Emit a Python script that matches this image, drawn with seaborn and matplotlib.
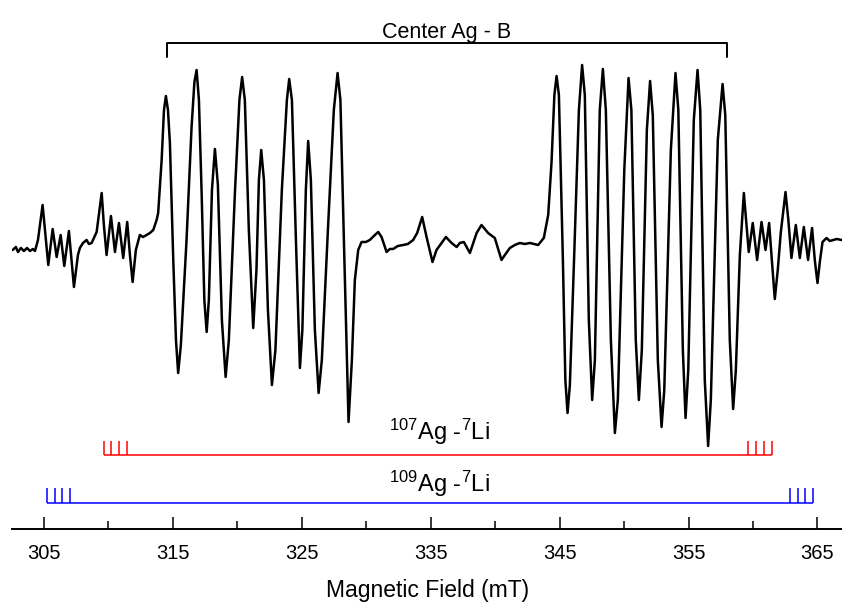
import numpy as np
import matplotlib
matplotlib.use("Agg")
import matplotlib.pyplot as plt
import seaborn as sns

# EPR spectrum: field (mT) and signal (a.u.)
field = [302.60, 302.85, 303.01, 303.24, 303.47, 303.71, 303.94, 304.17, 304.33, 304.56,
         304.92, 305.14, 305.36, 305.70, 306.01, 306.32, 306.60, 306.96, 307.35, 307.66,
         307.81, 308.05, 308.33, 308.51, 308.72, 309.11, 309.50, 309.67, 309.88, 310.22,
         310.53, 310.84, 311.17, 311.48, 311.69, 311.90, 312.15, 312.46, 312.70, 312.98,
         313.24, 313.50, 313.76, 313.88, 314.15, 314.33, 314.48, 314.64, 314.79, 315.05,
         315.26, 315.43, 315.64, 316.08, 316.47, 316.69, 316.86, 317.04, 317.25, 317.46,
         317.64, 317.81, 318.05, 318.28, 318.51, 318.82, 319.11, 319.36, 319.83, 320.18,
         320.39, 320.60, 320.91, 321.25, 321.50, 321.69, 321.87, 322.08, 322.39, 322.70,
         322.97, 323.47, 323.86, 324.04, 324.25, 324.56, 324.87, 325.06, 325.33, 325.51,
         325.72, 326.03, 326.32, 326.57, 327.04, 327.50, 327.79, 328.01, 328.28, 328.64,
         328.90, 329.13, 329.39, 329.65, 329.98, 330.29, 330.60, 330.94, 331.20, 331.59,
         331.84, 332.10, 332.46, 332.88, 333.24, 333.65, 333.96, 334.35, 334.69, 335.15,
         335.46, 335.85, 336.19, 336.63, 337.02, 337.27, 337.58, 338.05, 338.57, 338.95,
         339.46, 339.98, 340.50, 340.76, 341.15, 341.53, 341.92, 342.31, 342.70, 343.01,
         343.34, 343.78, 344.12, 344.38, 344.60, 344.77, 344.95, 345.26, 345.45, 345.62,
         345.80, 346.15, 346.50, 346.75, 346.96, 347.27, 347.53, 347.74, 348.12, 348.36,
         348.59, 348.98, 349.29, 349.52, 350.02, 350.35, 350.57, 350.91, 351.15, 351.38,
         351.77, 352.02, 352.23, 352.62, 352.91, 353.12, 353.63, 353.99, 354.21, 354.56,
         354.77, 354.98, 355.41, 355.70, 355.91, 356.26, 356.52, 356.73, 357.27, 357.64,
         357.85, 358.20, 358.46, 358.67, 358.98, 359.29, 359.67, 359.98, 360.32, 360.66,
         360.97, 361.25, 361.46, 361.69, 361.92, 362.15, 362.52, 362.74, 362.98, 363.32,
         363.63, 363.94, 364.27, 364.58, 364.79, 365.00, 365.18, 365.39, 365.70, 365.95,
         366.21, 366.50, 366.86]
signal = [-5, -2, -7, -3, -6, -3, -6, -4, -6, 5,
          40, 10, -20, 16, -12, 10, -21, 14, -42, -10,
          -3, 2, 5, 1, 2, 13, 52, 20, -10, 29,
          -7, 22, -13, 23, -10, -37, -5, 10, 8, 10,
          12, 15, 25, 32, 85, 135, 149, 135, 102, -15,
          -95, -128, -100, 5, 118, 163, 175, 145, 52, -55,
          -87, -55, 55, 96, 60, -75, -132, -95, 52, 145,
          168, 145, 15, -83, -25, 65, 95, 65, -65, -140,
          -105, 55, 145, 166, 145, 5, -123, -85, 55, 104,
          65, -85, -148, -115, 15, 135, 172, 145, 5, -177,
          -115, -35, -5, 3, 3, 5, 9, 13, 8, -7,
          -4, -4, -1, 0, 1, 5, 12, 28, 8, -17,
          -5, 2, 8, 2, -2, 2, 3, -8, 12, 20,
          12, 7, -15, -10, -3, 0, 2, 1, 2, 1,
          0, 7, 30, 83, 150, 169, 150, -15, -135, -168,
          -140, -5, 135, 180, 150, -75, -155, -115, 135, 176,
          135, -95, -188, -155, 75, 167, 135, -95, -155, -105,
          115, 164, 130, -115, -182, -145, 95, 172, 135, -105,
          -173, -125, 125, 175, 135, -135, -201, -155, 105, 161,
          130, -95, -164, -125, -10, 52, -7, 22, -15, 23,
          -5, 22, -15, -54, -25, 12, 53, 25, -13, 20,
          -13, 18, -15, 17, -15, -38, -17, 3, 7, 4,
          5, 6, 5]

# stick diagrams (mT)
ag107_li = [309.67, 310.26, 310.85, 311.45, 359.62, 360.24, 360.84, 361.46]
ag109_li = [305.26, 305.85, 306.44, 307.04, 362.85, 363.47, 364.07, 364.69]
center_b = [314.53, 357.99]

major_ticks = [305, 315, 325, 335, 345, 355, 365]
minor_ticks = [310, 320, 330, 340, 350, 360]

sns.set_style("white")
plt.rcParams['font.family'] = ['Liberation Sans', 'DejaVu Sans']
plt.rcParams['mathtext.default'] = 'regular'
plt.rcParams['text.color'] = 'black'
plt.rcParams['axes.labelcolor'] = 'black'
plt.rcParams['xtick.color'] = 'black'

fig = plt.figure(figsize=(8.42, 6.04), dpi=100)
ax = fig.add_axes([0.0146, 0.1242, 0.9854, 0.8758])

sns.lineplot(x=field, y=signal, sort=False, estimator=None, color='black', linewidth=1.8, ax=ax)

label_x = 335.7

# 107Ag - 7Li sticks (red)
ax.hlines(-210, ag107_li[0], ag107_li[-1], color='#ff0000', linewidth=1.1)
ax.vlines(ag107_li, -210, -196, color='#ff0000', linewidth=1.1)
ax.text(label_x, -195, r'$^{107}$Ag -$^{7}$Li', ha='center', va='baseline', fontsize=17)

# 109Ag - 7Li sticks (blue)
ax.hlines(-258, ag109_li[0], ag109_li[-1], color='#0000ff', linewidth=1.1)
ax.vlines(ag109_li, -258, -243, color='#0000ff', linewidth=1.1)
ax.text(label_x, -247, r'$^{109}$Ag -$^{7}$Li', ha='center', va='baseline', fontsize=17)

# bracket for center Ag - B
ax.plot([center_b[0], center_b[0], center_b[1], center_b[1]], [188, 202, 202, 188],
        color='black', linewidth=1.4)
ax.text(np.mean(center_b), 207, 'Center Ag - B', ha='center', va='baseline', fontsize=15.5)

ax.set_xlim(302.57, 366.9)
ax.set_ylim(-284, 245)
ax.set_xticks(major_ticks)
ax.set_xticks(minor_ticks, minor=True)
ax.set_yticks([])
ax.tick_params(axis='x', which='major', direction='in', length=8.6, width=1.1,
               labelsize=14.5, pad=11, bottom=True, colors='black')
ax.tick_params(axis='x', which='minor', direction='in', length=5.8, width=1.1, bottom=True,
               colors='black')
for side in ['top', 'left', 'right']:
    ax.spines[side].set_visible(False)
ax.spines['bottom'].set_linewidth(1.4)
ax.spines['bottom'].set_color('black')
ax.set_xlabel('Magnetic Field (mT)', fontsize=16.5, labelpad=11, color='black')
ax.set_ylabel('')
ax.patch.set_alpha(0)

fig.savefig('out.png', dpi=100)
